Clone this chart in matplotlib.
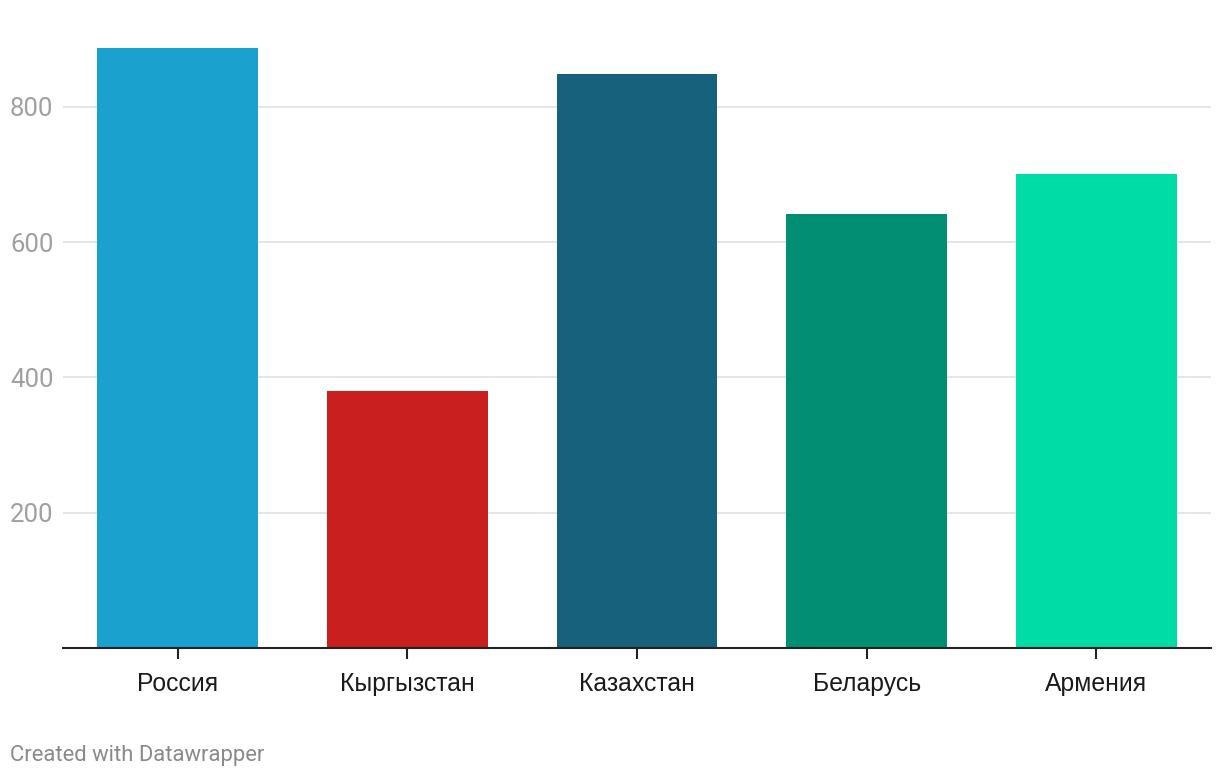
import matplotlib
matplotlib.use("Agg")
from matplotlib import pyplot as plt

countries = ["Россия", "Кыргызстан", "Казахстан", "Беларусь", "Армения"]
values = [887, 380, 849, 642, 701]
colors = ["#1aa1ce", "#c91f1f", "#17617d", "#018e72", "#00dca6"]
yticks = [200, 400, 600, 800]

plt.rcParams['font.family'] = ['Roboto', 'DejaVu Sans']

fig = plt.figure(figsize=(12.2, 7.78), dpi=100)
ax = fig.add_axes([63/1220, 130/778, 1148/1220, 608/778])

x = range(len(countries))
ax.bar(x, values, width=0.7, color=colors, zorder=3)

ax.set_xlim(-0.5, 4.5)
ax.set_ylim(0, 899)
ax.set_yticks(yticks)
ax.set_yticklabels([str(v) for v in yticks])
ax.set_xticks(list(x))
ax.set_xticklabels(countries)

ax.grid(axis='y', color='#e0e0e0', linewidth=1.2, zorder=0)
for s in ['top', 'right', 'left']:
    ax.spines[s].set_visible(False)
ax.spines['bottom'].set_color('#222222')
ax.spines['bottom'].set_linewidth(1.5)
ax.spines['bottom'].set_zorder(4)

ax.tick_params(axis='y', length=0, labelsize=18.5, labelcolor='#a0a0a0', pad=0)
for lbl in ax.get_yticklabels():
    lbl.set_horizontalalignment('left')
    lbl.set_x(-53/1148)
ax.tick_params(axis='x', length=8, width=1.5, color='#222222', labelsize=17.8,
               labelcolor='#1a1a1a', pad=9)
for lbl in ax.get_xticklabels():
    lbl.set_family(['Liberation Sans', 'DejaVu Sans'])

fig.text(10/1220, 1 - 756/778, "Created with Datawrapper", fontsize=15.8,
         color='#8a8a8a', ha='left', va='center')

plt.savefig("out.png", dpi=100)
